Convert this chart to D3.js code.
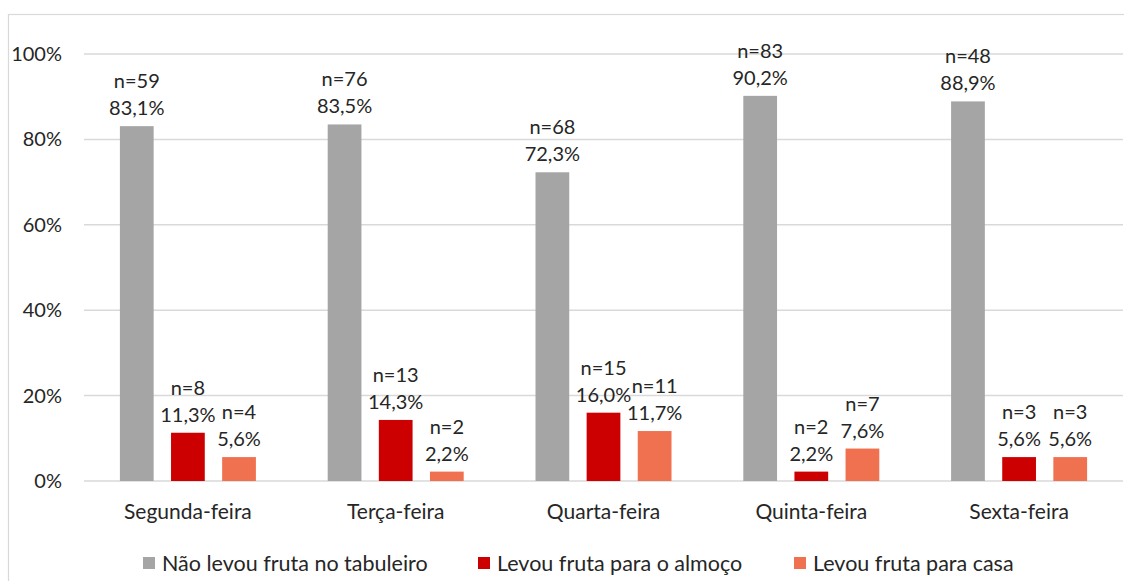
<!DOCTYPE html>
<html>
<head>
<meta charset="utf-8">
<script src="https://cdn.jsdelivr.net/npm/d3@7"></script>
<style>
  body { margin: 0; background: #fff; }
  text { font-family: Lato, 'Open Sans', sans-serif; fill: #262626; }
</style>
</head>
<body>
<div id="chart"></div>
<script>
const categories = ['Segunda-feira', 'Terça-feira', 'Quarta-feira', 'Quinta-feira', 'Sexta-feira']
const seriesNames = ['Não levou fruta no tabuleiro', 'Levou fruta para o almoço', 'Levou fruta para casa']
const naoLevou = [83.1, 83.5, 72.3, 90.2, 88.9]
const naoLevouN = [59, 76, 68, 83, 48]
const almoco = [11.3, 14.3, 16.0, 2.2, 5.6]
const almocoN = [8, 13, 15, 2, 3]
const casa = [5.6, 2.2, 11.7, 7.6, 5.6]
const casaN = [4, 2, 11, 7, 3]
const yTicks = [0, 20, 40, 60, 80, 100]
const colors = ['#A5A5A5', '#CC0000', '#EF7150']

let width = 1124
let height = 581
let plotLeft = 84
let plotRight = 1123
let plotTop = 54
let plotBottom = 481

let svg = d3.select('#chart')
  .append('svg')
  .attr('width', width)
  .attr('height', height)

svg.append('rect')
  .attr('x', 8.5)
  .attr('y', 14.5)
  .attr('width', 1140)
  .attr('height', 600)
  .attr('fill', '#fff')
  .attr('stroke', '#D9D9D9')
  .attr('stroke-width', 1.2)

let x0 = d3.scaleBand().domain(categories).range([plotLeft, plotRight])
let x1 = d3.scaleBand().domain(seriesNames)
  .range([x0.bandwidth() / 2 - 68, x0.bandwidth() / 2 + 68])
  .paddingInner(0.34)
let y = d3.scaleLinear().domain([0, 100]).range([plotBottom, plotTop])

// gridlines
svg.append('g')
  .selectAll('line')
  .data(yTicks)
  .enter()
  .append('line')
  .attr('x1', plotLeft)
  .attr('x2', plotRight)
  .attr('y1', d => y(d))
  .attr('y2', d => y(d))
  .attr('stroke', '#D9D9D9')
  .attr('stroke-width', 1.5)

svg.append('g')
  .selectAll('text')
  .data(yTicks)
  .enter()
  .append('text')
  .attr('x', 62)
  .attr('y', d => y(d))
  .attr('dy', '0.35em')
  .attr('text-anchor', 'end')
  .style('font-size', '20px')
  .text(d => d + '%')

let rows = []
categories.forEach((c, i) => {
  rows.push({ cat: c, s: seriesNames[0], v: naoLevou[i], n: naoLevouN[i], color: colors[0] })
  rows.push({ cat: c, s: seriesNames[1], v: almoco[i], n: almocoN[i], color: colors[1] })
  rows.push({ cat: c, s: seriesNames[2], v: casa[i], n: casaN[i], color: colors[2] })
})

let bars = svg.append('g')
bars.selectAll('rect')
  .data(rows)
  .enter()
  .append('rect')
  .attr('x', d => x0(d.cat) + x1(d.s))
  .attr('width', x1.bandwidth())
  .attr('y', d => y(d.v))
  .attr('height', d => y(0) - y(d.v))
  .attr('fill', d => d.color)

let fmt = v => v.toFixed(1).replace('.', ',') + '%'

let labels = svg.append('g')
  .selectAll('text')
  .data(rows)
  .enter()
  .append('text')
  .attr('text-anchor', 'middle')
  .style('font-size', '20px')
labels.append('tspan')
  .attr('x', d => x0(d.cat) + x1(d.s) + x1.bandwidth() / 2)
  .attr('y', d => y(d.v) - 38)
  .text(d => 'n=' + d.n)
labels.append('tspan')
  .attr('x', d => x0(d.cat) + x1(d.s) + x1.bandwidth() / 2)
  .attr('y', d => y(d.v) - 11)
  .text(d => fmt(d.v))

svg.append('g')
  .selectAll('text')
  .data(categories)
  .enter()
  .append('text')
  .attr('x', d => x0(d) + x0.bandwidth() / 2)
  .attr('y', 512)
  .attr('dy', '0.35em')
  .attr('text-anchor', 'middle')
  .style('font-size', '21px')
  .text(d => d)

// legend
let legendX = [143, 478, 794]
let legend = svg.append('g')
  .selectAll('g')
  .data(seriesNames)
  .enter()
  .append('g')
  .attr('transform', (d, i) => 'translate(' + legendX[i] + ',563)')
legend.append('rect')
  .attr('x', 0)
  .attr('y', -6)
  .attr('width', 12)
  .attr('height', 12)
  .attr('fill', (d, i) => colors[i])
legend.append('text')
  .attr('x', 19)
  .attr('dy', '0.35em')
  .style('font-size', '21.5px')
  .text(d => d)
</script>
</body>
</html>
